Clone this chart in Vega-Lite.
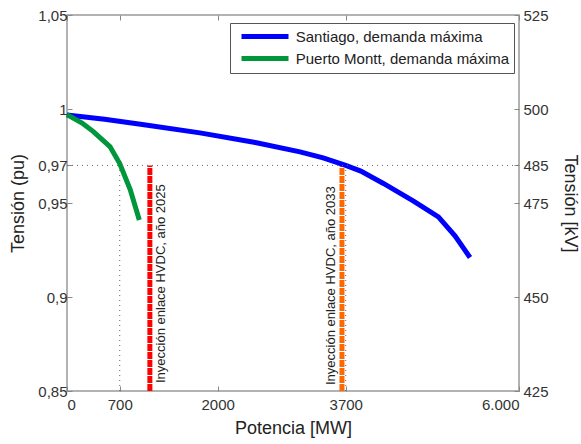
{
  "$schema": "https://vega.github.io/schema/vega-lite/v6.json",
  "width": 452,
  "height": 376,
  "autosize": {"type": "none"},
  "padding": {"left": 67, "top": 15, "right": 62, "bottom": 53},
  "background": "white",
  "config": {
    "font": "Liberation Sans",
    "view": {"stroke": "#999999", "strokeWidth": 1.5},
    "axis": {
      "grid": false,
      "domain": false,
      "tickColor": "#888888",
      "tickSize": -5,
      "labelFont": "Liberation Sans",
      "labelFontSize": 15,
      "labelColor": "#333333",
      "titleFont": "Liberation Sans",
      "titleFontSize": 18,
      "titleFontWeight": "normal",
      "titleColor": "#222222"
    }
  },
  "datasets": {
    "curves": [
      {"serie": "Santiago, demanda máxima", "p": 0, "v": 0.9968},
      {"serie": "Santiago, demanda máxima", "p": 500, "v": 0.9945},
      {"serie": "Santiago, demanda máxima", "p": 1000, "v": 0.9918},
      {"serie": "Santiago, demanda máxima", "p": 1765, "v": 0.9873},
      {"serie": "Santiago, demanda máxima", "p": 2500, "v": 0.9822},
      {"serie": "Santiago, demanda máxima", "p": 3093, "v": 0.9772},
      {"serie": "Santiago, demanda máxima", "p": 3400, "v": 0.974},
      {"serie": "Santiago, demanda máxima", "p": 3700, "v": 0.970},
      {"serie": "Santiago, demanda máxima", "p": 3900, "v": 0.967},
      {"serie": "Santiago, demanda máxima", "p": 4200, "v": 0.9604},
      {"serie": "Santiago, demanda máxima", "p": 4600, "v": 0.951},
      {"serie": "Santiago, demanda máxima", "p": 4930, "v": 0.9426},
      {"serie": "Santiago, demanda máxima", "p": 5150, "v": 0.9325},
      {"serie": "Santiago, demanda máxima", "p": 5350, "v": 0.921},
      {"serie": "Puerto Montt, demanda máxima", "p": 0, "v": 0.997},
      {"serie": "Puerto Montt, demanda máxima", "p": 200, "v": 0.9925},
      {"serie": "Puerto Montt, demanda máxima", "p": 350, "v": 0.988},
      {"serie": "Puerto Montt, demanda máxima", "p": 570, "v": 0.980},
      {"serie": "Puerto Montt, demanda máxima", "p": 700, "v": 0.971},
      {"serie": "Puerto Montt, demanda máxima", "p": 840, "v": 0.957},
      {"serie": "Puerto Montt, demanda máxima", "p": 960, "v": 0.941}
    ],
    "guides": [
      {"p": 700, "v0": 0.85, "v1": 0.97},
      {"p": 3700, "v0": 0.85, "v1": 0.97}
    ],
    "injections": [
      {"p": 1100, "v0": 0.85, "v1": 0.97, "year": "2025", "label": "Inyección enlace HVDC, año 2025"},
      {"p": 3650, "v0": 0.85, "v1": 0.97, "year": "2033", "label": "Inyección enlace HVDC, año 2033"}
    ],
    "kv": [
      {"kv": 485, "p0": 0, "p1": 6000}
    ]
  },
  "layer": [
    {
      "layer": [
        {
          "data": {"name": "guides"},
          "mark": {"type": "rule", "color": "#666666", "strokeWidth": 1, "strokeDash": [1, 4]},
          "encoding": {
            "x": {"field": "p", "type": "quantitative"},
            "y": {"field": "v0", "type": "quantitative"},
            "y2": {"field": "v1"}
          }
        },
        {
          "data": {"name": "injections"},
          "transform": [{"filter": "datum.year == '2025'"}],
          "mark": {"type": "rule", "strokeWidth": 5, "strokeDash": [7, 1], "color": "#FF0000"},
          "encoding": {
            "x": {"field": "p", "type": "quantitative"},
            "y": {"field": "v0", "type": "quantitative"},
            "y2": {"field": "v1"}
          }
        },
        {
          "data": {"name": "injections"},
          "transform": [{"filter": "datum.year == '2033'"}],
          "mark": {"type": "rule", "strokeWidth": 5, "strokeDash": [7, 1], "color": "#FF6A00"},
          "encoding": {
            "x": {"field": "p", "type": "quantitative"},
            "y": {"field": "v0", "type": "quantitative"},
            "y2": {"field": "v1"}
          }
        },
        {
          "data": {"name": "injections"},
          "transform": [{"filter": "datum.year == '2025'"}],
          "mark": {"type": "text", "angle": 270, "align": "left", "baseline": "top", "dx": 8, "dy": 5, "fontSize": 13, "color": "#222222"},
          "encoding": {
            "x": {"field": "p", "type": "quantitative"},
            "y": {"field": "v0", "type": "quantitative"},
            "text": {"field": "label"}
          }
        },
        {
          "data": {"name": "injections"},
          "transform": [{"filter": "datum.year == '2033'"}],
          "mark": {"type": "text", "angle": 270, "align": "left", "baseline": "bottom", "dx": 6, "dy": -4, "fontSize": 13, "color": "#222222"},
          "encoding": {
            "x": {"field": "p", "type": "quantitative"},
            "y": {"field": "v0", "type": "quantitative"},
            "text": {"field": "label"}
          }
        },
        {
          "data": {"name": "curves"},
          "mark": {"type": "line", "strokeWidth": 5, "strokeCap": "butt"},
          "encoding": {
            "x": {
              "field": "p", "type": "quantitative",
              "scale": {"domain": [0, 6000], "nice": false, "zero": false},
              "axis": {
                "values": [0, 700, 2000, 3700, 6000],
                "labelExpr": "datum.value == 6000 ? '6.000' : toString(datum.value)",
                "title": "Potencia [MW]",
                "labelPadding": 11,
                "titlePadding": 7
              }
            },
            "y": {
              "field": "v", "type": "quantitative",
              "scale": {"domain": [0.85, 1.05], "nice": false, "zero": false},
              "axis": {
                "values": [0.85, 0.9, 0.95, 0.97, 1, 1.05],
                "labelExpr": "replace(toString(datum.value), '.', ',')",
                "title": "Tensión (pu)",
                "labelPadding": 5,
                "titlePadding": 10
              }
            },
            "color": {
              "field": "serie", "type": "nominal",
              "scale": {"domain": ["Santiago, demanda máxima", "Puerto Montt, demanda máxima"], "range": ["#0000FF", "#00963C"]},
              "legend": {
                "orient": "none", "legendX": 163, "legendY": 8,
                "title": null,
                "symbolType": "M-0.286,0H6.43", "symbolSize": 196, "symbolStrokeWidth": 5,
                "labelFontSize": 15, "labelColor": "#222222", "labelLimit": 400,
                "fillColor": "white", "strokeColor": "#555555",
                "padding": 4, "rowPadding": 1, "labelOffset": 42.7
              }
            },
            "sort": {"field": "p"}
          }
        }
      ]
    },
    {
      "data": {"name": "kv"},
      "mark": {"type": "rule", "color": "#666666", "strokeWidth": 1, "strokeDash": [1, 4]},
      "encoding": {
        "x": {"field": "p0", "type": "quantitative", "axis": {"orient": "top", "values": [0, 700, 2000, 3700, 6000], "labels": false, "title": null}},
        "x2": {"field": "p1"},
        "y": {
          "field": "kv", "type": "quantitative",
          "scale": {"domain": [425, 525], "nice": false, "zero": false},
          "axis": {
            "orient": "right",
            "values": [425, 450, 475, 485, 500, 525],
            "title": "Tensión [kV]",
            "labelPadding": 9,
            "titlePadding": 12
          }
        }
      }
    }
  ],
  "resolve": {"scale": {"y": "independent"}, "axis": {"x": "independent"}}
}
